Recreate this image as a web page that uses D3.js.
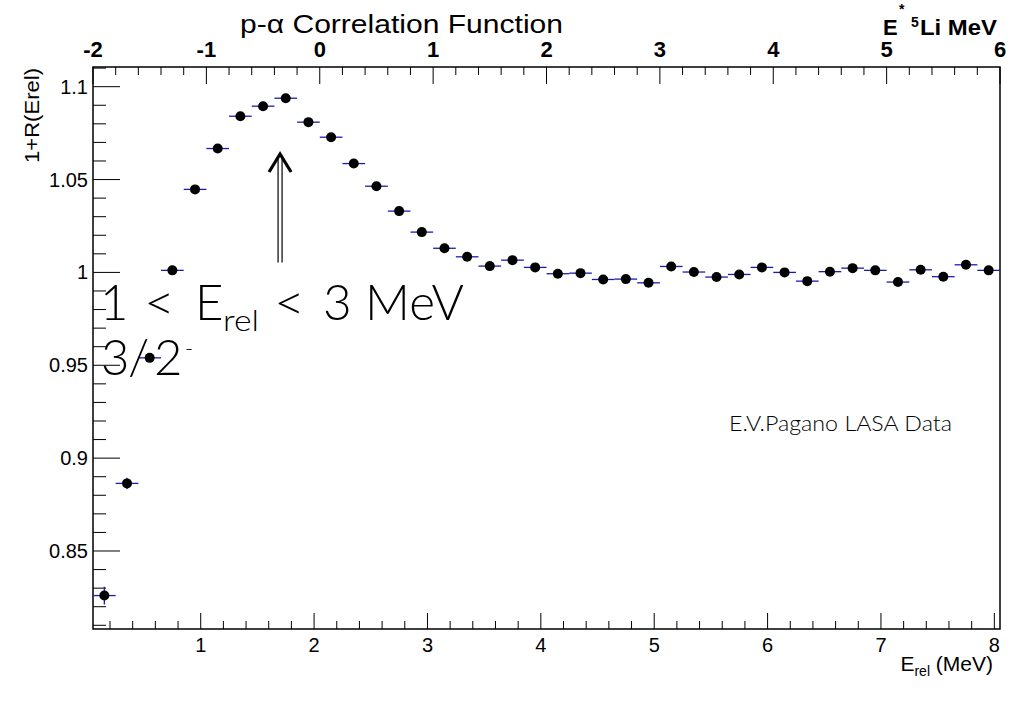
<!DOCTYPE html>
<html>
<head>
<meta charset="utf-8">
<script src="https://cdn.jsdelivr.net/npm/d3@7"></script>
<style>
  html, body { margin: 0; padding: 0; background: #fff; }
  svg { display: block; }
  text { font-family: "Liberation Sans", Arial, Helvetica, sans-serif; fill: #000; }
  .light, .light text { font-family: "Lato", "Open Sans", "Noto Sans", sans-serif; font-weight: 300; }
</style>
</head>
<body>
<svg id="chart" width="1012" height="707"></svg>
<script>
// ---- data ----
const binCenters = [0.15,0.35,0.55,0.75,0.95,1.15,1.35,1.55,1.75,1.95,
                    2.15,2.35,2.55,2.75,2.95,3.15,3.35,3.55,3.75,3.95,
                    4.15,4.35,4.55,4.75,4.95,5.15,5.35,5.55,5.75,5.95,
                    6.15,6.35,6.55,6.75,6.95,7.15,7.35,7.55,7.75,7.95];
const corrValues = [0.826,0.8864,0.954,1.0011,1.0447,1.0667,1.0841,1.0895,1.0938,1.0809,
                    1.0728,1.0586,1.0464,1.0330,1.0217,1.0130,1.0084,1.0034,1.0066,1.0027,
                    0.9993,0.9996,0.9962,0.9964,0.9944,1.0032,1.0002,0.9975,0.9989,1.0027,
                    1.0000,0.9953,1.0004,1.0023,1.0011,0.9948,1.0014,0.9977,1.0041,1.0011];
const corrErrors = [0.0048,0.0030,0.0022,0.0018,0.0018,0.0018,0.0018,0.0018,0.0018,0.0018,
                    0.0017,0.0017,0.0017,0.0017,0.0017,0.0016,0.0016,0.0016,0.0016,0.0016,
                    0.0016,0.0016,0.0016,0.0016,0.0016,0.0016,0.0016,0.0016,0.0016,0.0016,
                    0.0016,0.0016,0.0016,0.0016,0.0016,0.0016,0.0016,0.0016,0.0016,0.0016];
const binWidth = 0.2;
const xTicks = [1,2,3,4,5,6,7,8];
const yTicks = [0.85,0.9,0.95,1,1.05,1.1];
const yTickLabels = ["0.85","0.9","0.95","1","1.05","1.1"];
const topTicks = [-2,-1,0,1,2,3,4,5,6];
const xDomain = [0.05, 8.05];
const yDomain = [0.808, 1.1106];
const topDomain = [-2, 6];
const arrowX = 1.7, arrowFrom = 1.0054, arrowTo = 1.0643;

// ---- layout ----
const svg = d3.select("#chart");
const L = 93, R = 1000, T = 67, B = 629;
const x = d3.scaleLinear().domain(xDomain).range([L, R]);
const y = d3.scaleLinear().domain(yDomain).range([B, T]);
const xt = d3.scaleLinear().domain(topDomain).range([L, R]);

// frame
svg.append("rect").attr("x", L).attr("y", T).attr("width", R - L).attr("height", B - T)
  .attr("fill", "none").attr("stroke", "#000").attr("stroke-width", 1.5);

// bottom axis
const xMinor = d3.range(0.2, 8.05, 0.2).map(v => +v.toFixed(2)).filter(v => v > xDomain[0]);
const gb = svg.append("g");
gb.selectAll("line").data(xMinor).join("line")
  .attr("x1", d => x(d)).attr("x2", d => x(d))
  .attr("y1", B).attr("y2", d => Math.abs(d - Math.round(d)) < 1e-6 ? B - 16 : B - 8)
  .attr("stroke", "#000").attr("stroke-width", 1);
gb.selectAll("text").data(xTicks).join("text")
  .attr("x", d => x(d)).attr("y", 652).attr("text-anchor", "middle")
  .style("font-size", "20px").text(d => d);
const xt1 = svg.append("text").attr("x", 993).attr("y", 671).attr("text-anchor", "end").style("font-size", "21px");
xt1.append("tspan").text("E");
xt1.append("tspan").attr("dy", 5).style("font-size", "14px").text("rel");
xt1.append("tspan").attr("dy", -5).text(" (MeV)");

// top axis
const topMinor = d3.range(-2, 6.001, 0.2).map(v => +v.toFixed(2));
const gt = svg.append("g");
gt.selectAll("line").data(topMinor).join("line")
  .attr("x1", d => xt(d)).attr("x2", d => xt(d))
  .attr("y1", T).attr("y2", d => Math.abs(d - Math.round(d)) < 1e-6 ? T + 17 : T + 8)
  .attr("stroke", "#000").attr("stroke-width", 1);
gt.selectAll("text").data(topTicks).join("text")
  .attr("x", d => xt(d)).attr("y", 57).attr("text-anchor", "middle")
  .style("font-size", "22px").style("font-weight", "bold").text(d => d);

// top-right label E* 5Li MeV
const lab = svg.append("g").style("font-weight", "bold");
lab.append("text").attr("x", 883).attr("y", 35).style("font-size", "22px").text("E");
lab.append("text").attr("x", 899).attr("y", 14).style("font-size", "14px").text("*");
lab.append("text").attr("x", 911).attr("y", 27).style("font-size", "14px").text("5");
lab.append("text").attr("x", 920).attr("y", 35).style("font-size", "22px")
  .attr("textLength", 77).attr("lengthAdjust", "spacingAndGlyphs").text("Li MeV");

// left axis
const yMinor = d3.range(0.81, 1.111, 0.01).map(v => +v.toFixed(3));
const gl = svg.append("g");
gl.selectAll("line").data(yMinor).join("line")
  .attr("x1", L).attr("y1", d => y(d)).attr("y2", d => y(d))
  .attr("x2", d => yTicks.some(t => Math.abs(t - d) < 1e-6) ? L + 27 : L + 13)
  .attr("stroke", "#000").attr("stroke-width", 1);
gl.selectAll("text").data(yTicks).join("text")
  .attr("x", 88).attr("y", d => y(d) + 7).attr("text-anchor", "end")
  .style("font-size", "20px").text((d, i) => yTickLabels[i]);
svg.append("text").attr("transform", "translate(39,68) rotate(-90)")
  .attr("text-anchor", "end").style("font-size", "21px")
  .attr("textLength", 95).attr("lengthAdjust", "spacingAndGlyphs").text("1+R(Erel)");

// title
svg.append("text").attr("x", 240).attr("y", 33).style("font-size", "26px")
  .attr("textLength", 323).attr("lengthAdjust", "spacingAndGlyphs")
  .text("p-\u03B1 Correlation Function");

// data
const pts = binCenters.map((c, i) => ({c, v: corrValues[i], e: corrErrors[i]}));
const gd = svg.append("g");
gd.selectAll("line.h").data(pts).join("line").attr("class", "h")
  .attr("x1", d => x(d.c - binWidth / 2)).attr("x2", d => x(d.c + binWidth / 2))
  .attr("y1", d => y(d.v)).attr("y2", d => y(d.v))
  .attr("stroke", "#1c1cb0").attr("stroke-width", 1.3);
gd.selectAll("line.v").data(pts).join("line").attr("class", "v")
  .attr("x1", d => x(d.c)).attr("x2", d => x(d.c))
  .attr("y1", d => y(d.v - d.e)).attr("y2", d => y(d.v + d.e))
  .attr("stroke", "#1c1cb0").attr("stroke-width", 1.3);
gd.selectAll("circle").data(pts).join("circle")
  .attr("cx", d => x(d.c)).attr("cy", d => y(d.v)).attr("r", 5).attr("fill", "#000");

// arrow (double shaft)
const ax = x(arrowX), ay0 = y(arrowFrom), ay1 = y(arrowTo);
svg.append("line").attr("x1", ax - 2).attr("x2", ax - 2).attr("y1", ay0).attr("y2", ay1 + 3)
  .attr("stroke", "#000").attr("stroke-width", 1.2);
svg.append("line").attr("x1", ax + 2).attr("x2", ax + 2).attr("y1", ay0).attr("y2", ay1 + 3)
  .attr("stroke", "#000").attr("stroke-width", 1.2);
svg.append("path").attr("d", `M${ax - 11},${ay1 + 19} L${ax},${ay1 + 1} L${ax + 11},${ay1 + 19}`)
  .attr("fill", "none").attr("stroke", "#000").attr("stroke-width", 3.2).attr("stroke-linejoin", "miter");

// annotations
const ann = svg.append("g").attr("class", "light").style("font-size", "49px");
ann.append("text").attr("x", 100).attr("y", 320).text("1");
ann.append("text").attr("x", 144).attr("y", 320)
  .attr("textLength", 31).attr("lengthAdjust", "spacingAndGlyphs").text("<");
ann.append("text").attr("x", 195).attr("y", 320).text("E");
ann.append("text").attr("x", 223).attr("y", 331).style("font-size", "29px")
  .attr("textLength", 36).attr("lengthAdjust", "spacingAndGlyphs").text("rel");
ann.append("text").attr("x", 274).attr("y", 320)
  .attr("textLength", 31).attr("lengthAdjust", "spacingAndGlyphs").text("<");
ann.append("text").attr("x", 323).attr("y", 320)
  .attr("textLength", 141).attr("lengthAdjust", "spacingAndGlyphs").text("3 MeV");
ann.append("text").attr("x", 101).attr("y", 375).text("3");
ann.append("text").attr("x", 128).attr("y", 375).text("/");
ann.append("text").attr("x", 154).attr("y", 375).text("2");
ann.append("text").attr("x", 185).attr("y", 356).style("font-size", "22px").text("-");
svg.append("text").attr("class", "light").attr("x", 729).attr("y", 431).style("font-size", "21px")
  .attr("textLength", 223).attr("lengthAdjust", "spacingAndGlyphs")
  .text("E.V.Pagano LASA Data");
</script>
</body>
</html>
